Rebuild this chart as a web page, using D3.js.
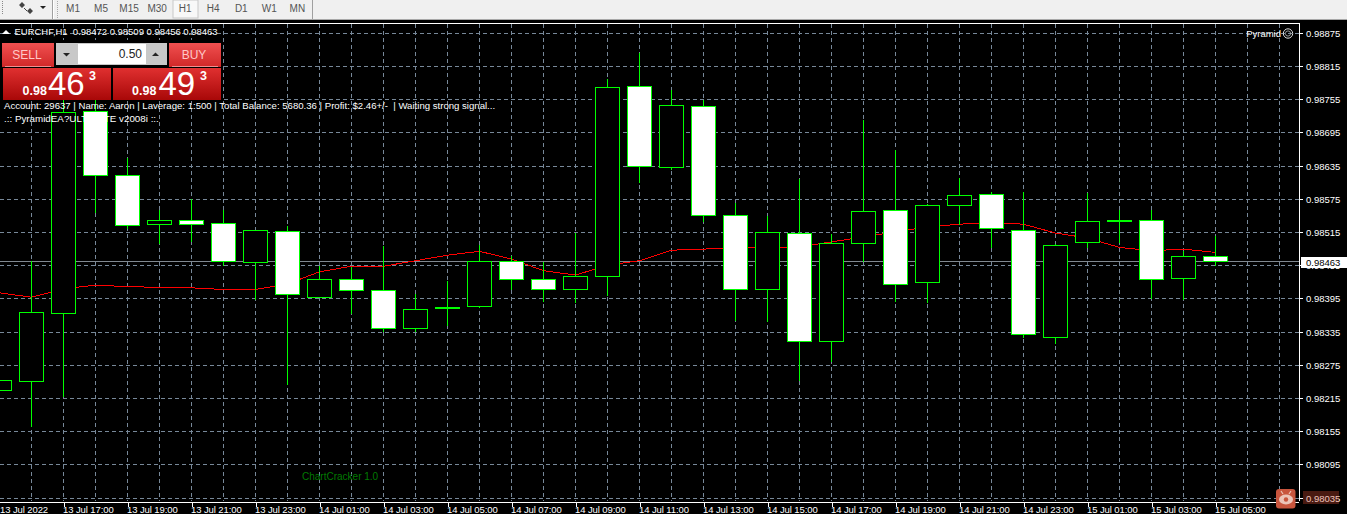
<!DOCTYPE html>
<html>
<head>
<meta charset="utf-8">
<script src="https://cdn.jsdelivr.net/npm/d3@7"></script>
<style>
html, body { margin: 0; padding: 0; background: #000; overflow: hidden; }
svg { display: block; }
text { font-family: "Liberation Sans", sans-serif; }
</style>
</head>
<body>
<div id="chart"></div>
<script>
// hourly bars, 13 Jul 15:00 -> 15 Jul 06:00 (last two have no candle yet)
const times = [
    "13 Jul 15:00", "13 Jul 16:00", "13 Jul 17:00", "13 Jul 18:00", "13 Jul 19:00", "13 Jul 20:00", "13 Jul 21:00", "13 Jul 22:00", "13 Jul 23:00",
    "14 Jul 00:00", "14 Jul 01:00", "14 Jul 02:00", "14 Jul 03:00", "14 Jul 04:00", "14 Jul 05:00", "14 Jul 06:00", "14 Jul 07:00", "14 Jul 08:00",
    "14 Jul 09:00", "14 Jul 10:00", "14 Jul 11:00", "14 Jul 12:00", "14 Jul 13:00", "14 Jul 14:00", "14 Jul 15:00", "14 Jul 16:00", "14 Jul 17:00",
    "14 Jul 18:00", "14 Jul 19:00", "14 Jul 20:00", "14 Jul 21:00", "14 Jul 22:00", "14 Jul 23:00", "15 Jul 00:00", "15 Jul 01:00", "15 Jul 02:00",
    "15 Jul 03:00", "15 Jul 04:00", "15 Jul 05:00", "15 Jul 06:00", "15 Jul 07:00"
];
const open = [0.98229, 0.98245, 0.98369, 0.98734, 0.98618, 0.98529, 0.98537, 0.98532, 0.98460, 0.98517, 0.98398, 0.98430, 0.98411, 0.98342, 0.98378, 0.98381, 0.98463, 0.98430, 0.98412, 0.98436, 0.98779, 0.98633, 0.98743, 0.98546, 0.98412, 0.98514, 0.98318, 0.98495, 0.98555, 0.98425, 0.98564, 0.98584, 0.98519, 0.98326, 0.98497, 0.98537, 0.98536, 0.98432, 0.98472];
const high = [0.98255, 0.98465, 0.98772, 0.98772, 0.98651, 0.98557, 0.98577, 0.98556, 0.98519, 0.98527, 0.98455, 0.98453, 0.98492, 0.98405, 0.98429, 0.98494, 0.98473, 0.98462, 0.98515, 0.98794, 0.98841, 0.98774, 0.98756, 0.98570, 0.98545, 0.98613, 0.98514, 0.98720, 0.98665, 0.98568, 0.98615, 0.98589, 0.98590, 0.98495, 0.98587, 0.98556, 0.98556, 0.98483, 0.98509];
const low = [0.98222, 0.98164, 0.98218, 0.98551, 0.98523, 0.98495, 0.98498, 0.98456, 0.98394, 0.98241, 0.98398, 0.98369, 0.98336, 0.98336, 0.98347, 0.98379, 0.98412, 0.98390, 0.98388, 0.98402, 0.98605, 0.98629, 0.98535, 0.98356, 0.98354, 0.98248, 0.98282, 0.98462, 0.98390, 0.98388, 0.98529, 0.98488, 0.98326, 0.98315, 0.98488, 0.98497, 0.98396, 0.98394, 0.98456];
const close = [0.98247, 0.98370, 0.98732, 0.98618, 0.98528, 0.98537, 0.98529, 0.98463, 0.98519, 0.98403, 0.98430, 0.98411, 0.98342, 0.98376, 0.98379, 0.98463, 0.98430, 0.98412, 0.98436, 0.98777, 0.98635, 0.98745, 0.98546, 0.98412, 0.98515, 0.98318, 0.98495, 0.98553, 0.98421, 0.98564, 0.98582, 0.98523, 0.98331, 0.98492, 0.98535, 0.98536, 0.98430, 0.98472, 0.98463];
const ma = [0.98406, 0.98398, 0.98413, 0.98420, 0.98417, 0.98416, 0.98415, 0.98412, 0.98412, 0.98422, 0.98444, 0.98454, 0.98454, 0.98464, 0.98474, 0.98481, 0.98467, 0.98446, 0.98438, 0.98456, 0.98464, 0.98483, 0.98485, 0.98487, 0.98488, 0.98489, 0.98498, 0.98507, 0.98516, 0.98525, 0.98530, 0.98533, 0.98530, 0.98514, 0.98505, 0.98488, 0.98482, 0.98485, 0.98479];

const priceTicks = [0.98875, 0.98815, 0.98755, 0.98695, 0.98635, 0.98575, 0.98515, 0.98455, 0.98395, 0.98335, 0.98275, 0.98215, 0.98155, 0.98095, 0.98035];
const timeTicks = times.filter((t, i) => i >= 2 && i % 2 == 0 && i <= 38);
const bid = 0.98463;

const periods = ["M1", "M5", "M15", "M30", "H1", "H4", "D1", "W1", "MN"];
const infoLine = "Account: 29637 | Name: Aaron | Laverage: 1:500 | Total Balance: 5680.36 | Profit: $2.46+/-  | Waiting strong signal...";
const eaLine = ".:: PyramidEA?ULTIMATE v2008i ::.";
const headerLine = "EURCHF,H1  0.98472 0.98509 0.98456 0.98463";

const width = 1347, height = 514;
const plotRight = 1299, plotTop = 23, plotBottom = 501;

const svg = d3.select("#chart").append("svg")
    .attr("width", width)
    .attr("height", height);

svg.append("rect").attr("width", width).attr("height", height).attr("fill", "#000");

// scales
const x = d3.scalePoint().domain(times).range([-0.5, 1279.5]);
const y = d3.scaleLinear().domain([0.98035, 0.98875]).range([498.1, 33.3]);
const py = v => Math.floor(y(v)) + 0.5;

const chart = svg.append("g").attr("shape-rendering", "crispEdges");

// grid
chart.selectAll(".hgrid").data(priceTicks).enter().append("line")
    .attr("x1", 0).attr("x2", plotRight)
    .attr("y1", d => py(d)).attr("y2", d => py(d))
    .attr("stroke", "#778899").attr("stroke-dasharray", "4,3");
chart.selectAll(".vgrid").data(times).enter().append("line")
    .attr("x1", d => x(d)).attr("x2", d => x(d))
    .attr("y1", plotTop + 1).attr("y2", plotBottom)
    .attr("stroke", "#778899").attr("stroke-dasharray", "4,3");

// bid line
chart.append("line")
    .attr("x1", 0).attr("x2", plotRight)
    .attr("y1", py(bid)).attr("y2", py(bid))
    .attr("stroke", "#808890");

// moving average goes under the candles
const maLine = d3.line().x((d, i) => x(times[i])).y(d => y(d));
chart.append("path")
    .attr("d", maLine(ma))
    .attr("fill", "none")
    .attr("stroke", "#ff0000")
    .attr("stroke-width", 1);

// candles
const candles = open.map((o, i) => ({ t: times[i], o: o, h: high[i], l: low[i], c: close[i] }));
const bars = chart.selectAll(".candle").data(candles).enter().append("g");
bars.append("line")
    .attr("x1", d => x(d.t)).attr("x2", d => x(d.t))
    .attr("y1", d => py(d.h)).attr("y2", d => py(d.l))
    .attr("stroke", "#00ff00");
bars.append("rect")
    .attr("x", d => x(d.t) - 12)
    .attr("width", 24)
    .attr("y", d => py(Math.max(d.o, d.c)))
    .attr("height", d => Math.max(1, py(Math.min(d.o, d.c)) - py(Math.max(d.o, d.c))))
    .attr("fill", d => d.c > d.o ? "#000" : "#fff")
    .attr("stroke", "#00ff00")
    .attr("stroke-width", d => d.c > d.o ? 1 : 1.4);

// axis frame, right side black strip
svg.append("rect").attr("x", plotRight).attr("y", plotTop).attr("width", width - plotRight).attr("height", height - plotTop).attr("fill", "#000");
svg.append("rect").attr("x", 0).attr("y", plotBottom + 1).attr("width", width).attr("height", height - plotBottom).attr("fill", "#000");

const yAxis = d3.axisRight(y).tickValues(priceTicks).tickFormat(d3.format(".5f")).tickSize(3).tickPadding(3.5);
const yG = svg.append("g").attr("transform", `translate(${plotRight + 0.5},0)`).call(yAxis);
const xAxis = d3.axisBottom(x).tickValues(timeTicks).tickSize(5).tickPadding(1);
const xG = svg.append("g").attr("transform", `translate(0,${plotBottom + 0.5})`).call(xAxis);

[yG, xG].forEach(g => {
    g.attr("shape-rendering", "crispEdges");
    g.selectAll("line").attr("stroke", "#fff");
    g.selectAll("text").attr("fill", "#fff").style("font-size", "9.5px").style("font-family", "Liberation Sans");
    g.select(".domain").attr("stroke", "#fff");
});
yG.selectAll(".tick").attr("transform", d => `translate(0,${py(d)})`);
xG.selectAll("text").attr("text-anchor", "start").attr("x", -1).attr("y", 5).attr("dy", "0.71em")
    .style("letter-spacing", "-0.1px");
xG.select(".domain").attr("d", `M0,0.5H${plotRight}`);
yG.select(".domain").attr("d", `M0,${plotTop}V${plotBottom}`);

svg.append("text").attr("x", 0).attr("y", 512.5).attr("fill", "#fff")
    .style("font-size", "9.5px").style("letter-spacing", "-0.1px").text("13 Jul 2022");
svg.append("line").attr("x1", 0).attr("x2", plotRight).attr("y1", plotTop + 0.5).attr("y2", plotTop + 0.5).attr("stroke", "#fff");

// bid label
svg.append("rect").attr("x", 1301).attr("y", py(bid) - 4.5).attr("width", 46).attr("height", 11).attr("fill", "#fff");
svg.append("text").attr("x", 1306).attr("y", py(bid) + 4).attr("fill", "#000").style("font-size", "9.5px").text(d3.format(".5f")(bid));

// toolbar
svg.append("rect").attr("width", width).attr("height", 19).attr("fill", "#f0f0f0");
svg.append("rect").attr("y", 19).attr("width", width).attr("height", 1).attr("fill", "#a8a8a8");
svg.append("rect").attr("x", 173).attr("y", 0).attr("width", 25).attr("height", 18).attr("fill", "#f8f8f8").attr("stroke", "#c8c8c8");
svg.selectAll(".period").data(periods).enter().append("text")
    .attr("x", (d, i) => 73 + i * 28.05)
    .attr("y", 12)
    .attr("text-anchor", "middle")
    .attr("fill", "#555")
    .style("font-size", "10px")
    .text(d => d);
[52, 312].forEach(sx => {
    svg.append("rect").attr("x", sx).attr("y", 0).attr("width", 1).attr("height", 19).attr("fill", "#a0a0a0");
});
svg.append("rect").attr("x", 53).attr("y", 0).attr("width", 1).attr("height", 19).attr("fill", "#fff");
svg.append("line").attr("x1", 57.5).attr("x2", 57.5).attr("y1", 1).attr("y2", 18).attr("stroke", "#aaa").attr("stroke-dasharray", "1,1");
svg.append("line").attr("x1", 2.5).attr("x2", 2.5).attr("y1", 1).attr("y2", 15).attr("stroke", "#888").attr("stroke-dasharray", "1,1");
svg.append("path").attr("d", "M22,2l3,3l-3,3l-3,-3zM30,8l3,3l-3,3l-3,-3z").attr("fill", "#444");
svg.append("path").attr("d", "M24,8l3,3M21,5h1").attr("stroke", "#444").attr("fill", "none");
svg.append("path").attr("d", "M40,6h6l-3,3z").attr("fill", "#222");

// header
svg.append("path").attr("d", "M2,34L6,30L10,34z").attr("fill", "#fff");
svg.append("text").attr("x", 14.5).attr("y", 35).attr("fill", "#fff").style("font-size", "9.5px").style("letter-spacing", "-0.02px").style("white-space", "pre").text(headerLine);

// right top label
svg.append("text").attr("x", 1281).attr("y", 36.5).attr("text-anchor", "end").attr("fill", "#fff").style("font-size", "9.5px").text("Pyramid");
svg.append("circle").attr("cx", 1288).attr("cy", 33.5).attr("r", 4.7).attr("fill", "none").attr("stroke", "#ddd");
svg.append("circle").attr("cx", 1288).attr("cy", 33.5).attr("r", 2.6).attr("fill", "none").attr("stroke", "#bbb").attr("stroke-width", 0.8);

// trade panel
const redV = svg.append("defs").append("linearGradient").attr("id", "redbig").attr("x1", 0).attr("x2", 0).attr("y1", 0).attr("y2", 1);
redV.append("stop").attr("offset", "0").attr("stop-color", "#e03030");
redV.append("stop").attr("offset", "1").attr("stop-color", "#a80808");
const redB = svg.select("defs").append("linearGradient").attr("id", "redbtn").attr("x1", 0).attr("x2", 0).attr("y1", 0).attr("y2", 1);
redB.append("stop").attr("offset", "0").attr("stop-color", "#f05050");
redB.append("stop").attr("offset", "1").attr("stop-color", "#d02828");

svg.append("rect").attr("x", 0).attr("y", 40).attr("width", 223).attr("height", 60).attr("fill", "#000");

function tradeBtn(bx, label) {
    svg.append("rect").attr("x", bx).attr("y", 43).attr("width", 52).attr("height", 24).attr("fill", "url(#redbtn)");
    svg.append("rect").attr("x", bx + 3).attr("y", 66).attr("width", 46).attr("height", 1).attr("fill", "#f09090");
    svg.append("text").attr("x", bx + 25).attr("y", 59).attr("text-anchor", "middle").attr("fill", "#ffc8c8").style("font-size", "12px").text(label);
}
tradeBtn(2, "SELL");
tradeBtn(169, "BUY");

function priceBox(bx, big, px0, pxBig, pxSup) {
    svg.append("rect").attr("x", bx).attr("y", 68).attr("width", 108).attr("height", 32).attr("fill", "url(#redbig)");
    svg.append("text").attr("x", px0).attr("y", 95).attr("fill", "#fff").style("font-size", "12.5px").style("font-weight", "bold").text("0.98");
    svg.append("text").attr("x", pxBig).attr("y", 95).attr("fill", "#fff").style("font-size", "33px").text(big);
    svg.append("text").attr("x", pxSup).attr("y", 79.5).attr("fill", "#fff").style("font-size", "12.5px").style("font-weight", "bold").text("3");
}
priceBox(3, "46", 22.5, 48, 89);
priceBox(113, "49", 132, 158.5, 200);

// lot size spinner
svg.append("rect").attr("x", 56).attr("y", 43).attr("width", 111).attr("height", 22).attr("fill", "#c8c8c8");
svg.append("rect").attr("x", 78).attr("y", 44).attr("width", 68).attr("height", 20).attr("fill", "#fff");
svg.append("text").attr("x", 142).attr("y", 58).attr("text-anchor", "end").attr("fill", "#222").style("font-size", "12px").text("0.50");
svg.append("path").attr("d", "M63,53h7l-3.5,3.5z").attr("fill", "#222");
svg.append("path").attr("d", "M152,56h7l-3.5,-3.5z").attr("fill", "#222");

// status lines
svg.append("text").attr("x", 4).attr("y", 109).attr("fill", "#fff").style("font-size", "9.6px").style("white-space", "pre").text(infoLine);
svg.append("text").attr("x", 4).attr("y", 121.5).attr("fill", "#fff").style("font-size", "9.8px").text(eaLine);

svg.append("text").attr("x", 302).attr("y", 479.5).attr("fill", "#007a00").style("font-size", "10px").text("ChartCracker 1.0");

// screenshot tool badge bottom right
svg.append("rect").attr("x", 1303).attr("y", 491).attr("width", 36).attr("height", 13).attr("fill", "#d04a30").attr("opacity", 0.35);
svg.append("rect").attr("x", 1276).attr("y", 489).attr("width", 19.5).attr("height", 19.5).attr("rx", 3).attr("fill", "#c8553d");
svg.append("ellipse").attr("cx", 1286).attr("cy", 499.5).attr("rx", 7).attr("ry", 5).attr("fill", "#ecc4b8");
svg.append("circle").attr("cx", 1286).attr("cy", 499.5).attr("r", 2.2).attr("fill", "#c8553d");
svg.append("path").attr("d", "M1281,491l2,3M1291,491l-2,3").attr("stroke", "#ecc4b8").attr("stroke-width", 1.2);
</script>
</body>
</html>
